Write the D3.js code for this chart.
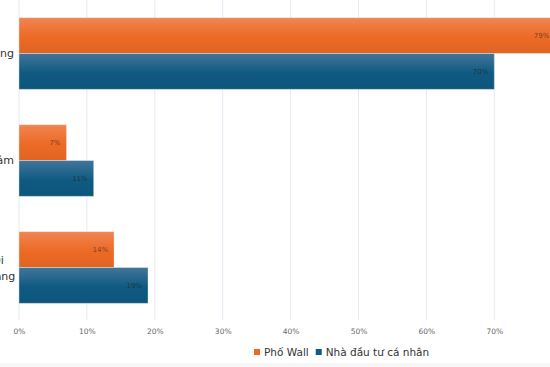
<!DOCTYPE html>
<html>
<head>
<meta charset="utf-8">
<script src="https://cdn.jsdelivr.net/npm/d3@7"></script>
<style>
  body { margin: 0; background: #fff; }
  text { font-family: "DejaVu Sans", Verdana, sans-serif; }
</style>
</head>
<body>
<div id="chart"></div>
<script>
// data
const categories = ['Tăng', 'Giảm', 'Đi ngang'];
const seriesNames = ['Phố Wall', 'Nhà đầu tư cá nhân'];
const wallStreet = [79, 7, 14];
const retail = [70, 11, 19];
const tickValues = [0, 10, 20, 30, 40, 50, 60, 70];

const W = 550, H = 367;
const colors = ['#ec6a25', '#0f5a82'];
const lightColors = ['#f08552', '#42759a'];

const svg = d3.select('#chart').append('svg')
    .attr('width', W)
    .attr('height', H);

// gradients
const defs = svg.append('defs');
colors.forEach((c, i) => {
    let g = defs.append('linearGradient')
        .attr('id', 'grad' + i)
        .attr('x1', 0).attr('y1', 0).attr('x2', 0).attr('y2', 1);
    g.append('stop').attr('offset', '0%').attr('stop-color', lightColors[i]);
    g.append('stop').attr('offset', '55%').attr('stop-color', c);
    g.append('stop').attr('offset', '100%').attr('stop-color', d3.color(c).darker(0.15));
});

// scales
const x = d3.scaleLinear()
    .domain([0, 80])
    .range([19, 19 + 8 * 67.9]);

const y = d3.scaleBand()
    .domain(categories)
    .range([0, 321])
    .paddingInner(0.33)
    .paddingOuter(0.165);

const ySub = d3.scaleBand()
    .domain(seriesNames)
    .range([0, y.bandwidth()]);

// grid
svg.append('g')
    .selectAll('line')
    .data(tickValues)
    .enter()
    .append('line')
    .attr('x1', d => x(d)).attr('x2', d => x(d))
    .attr('y1', 0).attr('y2', 320)
    .attr('stroke', '#e3e9f0')
    .attr('stroke-width', 1);

// x axis labels
const xAxis = svg.append('g')
    .attr('transform', 'translate(0,322)')
    .call(d3.axisBottom(x).tickValues(tickValues).tickSize(0).tickPadding(7).tickFormat(d => d + '%'));
xAxis.select('.domain').remove();
xAxis.selectAll('text')
    .attr('fill', '#666')
    .style('font-size', '7.5px');

// bars
const rows = categories.map((c, i) => ({cat: c, values: [wallStreet[i], retail[i]]}));

const groups = svg.selectAll('.grp')
    .data(rows)
    .enter()
    .append('g')
    .attr('class', 'grp')
    .attr('transform', d => 'translate(0,' + y(d.cat) + ')');

groups.selectAll('rect')
    .data(d => d.values.map((v, i) => ({v: v, s: i})))
    .enter()
    .append('rect')
    .attr('x', x(0))
    .attr('y', d => ySub(seriesNames[d.s]))
    .attr('width', d => x(d.v) - x(0))
    .attr('height', ySub.bandwidth())
    .attr('fill', d => 'url(#grad' + d.s + ')')
    .attr('stroke', 'rgba(255,255,255,0.35)')
    .attr('stroke-width', 1);

groups.selectAll('.val')
    .data(d => d.values.map((v, i) => ({v: v, s: i})))
    .enter()
    .append('text')
    .attr('class', 'val')
    .attr('x', d => x(d.v) - 6)
    .attr('y', d => ySub(seriesNames[d.s]) + ySub.bandwidth() / 2 + 2.5)
    .attr('text-anchor', 'end')
    .attr('fill', '#1a1a1a')
    .attr('fill-opacity', 0.6)
    .style('font-size', '7px')
    .text(d => d.v + '%');

// category labels (cut off at left edge, as in the source crop)
groups.append('text')
    .attr('text-anchor', 'middle')
    .attr('fill', '#333')
    .style('font-size', '11px')
    .each(function(d) {
        let words = d.cat.split(' ');
        let t = d3.select(this);
        if (words.length === 1) {
            t.attr('text-anchor', 'end');
            t.append('tspan').attr('x', 14).attr('y', y.bandwidth() / 2 + 4).text(d.cat);
        } else {
            words.forEach((w, k) => {
                t.append('tspan')
                    .attr('x', -2)
                    .attr('y', y.bandwidth() / 2 - 3 + k * 16)
                    .text(w);
            });
        }
    });

// legend
const legend = svg.append('g').attr('transform', 'translate(254,352)');
let lx = 0;
seriesNames.forEach((name, i) => {
    let item = legend.append('g').attr('transform', 'translate(' + lx + ',0)');
    item.append('rect')
        .attr('x', 0).attr('y', -3)
        .attr('width', 6).attr('height', 6)
        .attr('fill', colors[i]);
    let t = item.append('text')
        .attr('x', 10).attr('y', 4)
        .attr('fill', '#333')
        .style('font-size', '10.5px')
        .text(name);
    lx += 10 + t.node().getComputedTextLength() + 7;
});

// faint bottom strip
svg.append('rect')
    .attr('x', 0).attr('y', 363)
    .attr('width', W).attr('height', 4)
    .attr('fill', '#f8f8f8');
</script>
</body>
</html>
